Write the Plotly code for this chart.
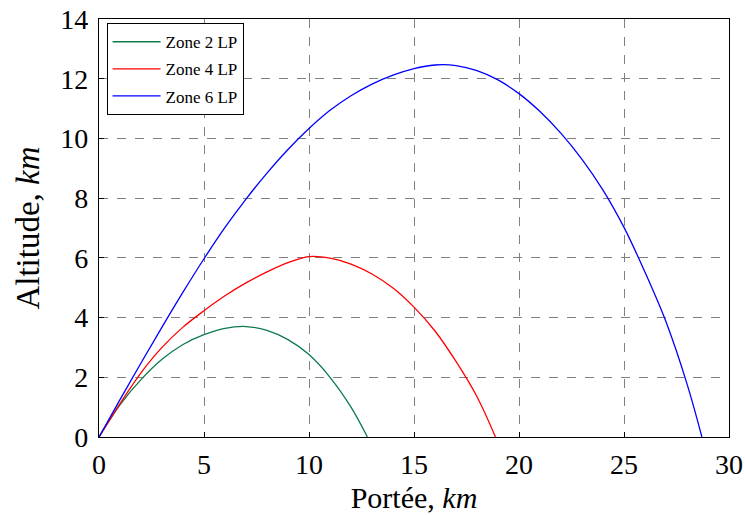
import plotly.graph_objects as go

# Zone 2 LP trajectory (portée km, altitude km)
zone2_x = [0, 1, 2, 3, 4, 5, 6, 7, 8, 9, 10, 11, 12, 12.78]
zone2_y = [0, 1.08, 1.92, 2.6, 3.1, 3.43, 3.64, 3.70, 3.57, 3.26, 2.76, 2.0, 1.0, 0]

# Zone 4 LP trajectory
zone4_x = [0, 1, 2, 3, 4, 5, 6, 7, 8, 9, 10, 11, 12, 13, 14, 15, 16, 17, 18, 18.88]
zone4_y = [0, 1.12, 2.15, 3.0, 3.68, 4.23, 4.73, 5.16, 5.53, 5.84, 6.04, 5.99, 5.79, 5.46, 4.99, 4.35, 3.55, 2.53, 1.35, 0]

# Zone 6 LP trajectory
zone6_x = [0, 1, 2, 3, 4, 5, 6, 7, 8, 9, 10, 11, 12, 13, 14, 15, 16, 17, 18, 19,
           20, 21, 22, 23, 24, 25, 26, 27, 28, 28.71]
zone6_y = [0, 1.25, 2.48, 3.68, 4.85, 5.97, 7.02, 7.97, 8.84, 9.63, 10.33, 10.94, 11.43, 11.82, 12.12, 12.34, 12.46, 12.44, 12.27, 11.96,
           11.5, 10.9, 10.17, 9.3, 8.27, 7.02, 5.52, 3.86, 1.78, 0]

series_names = ["Zone 2 LP", "Zone 4 LP", "Zone 6 LP"]
series_colors = ["#0b7a4c", "#ff0000", "#0000ff"]

x_ticks = [0, 5, 10, 15, 20, 25, 30]
y_ticks = [0, 2, 4, 6, 8, 10, 12, 14]

fig = go.Figure()
for i, (xs, ys) in enumerate([(zone2_x, zone2_y), (zone4_x, zone4_y), (zone6_x, zone6_y)]):
    fig.add_trace(go.Scatter(
        x=xs, y=ys, mode="lines", name=series_names[i],
        legendgroup=f"g{i}",
        line=dict(color=series_colors[i], width=1.3, shape="spline", smoothing=1.0),
    ))

serif = "Liberation Serif"
axis_common = dict(
    showgrid=True, gridcolor="#808080", griddash="dash", gridwidth=1.2,
    showline=True, linecolor="black", linewidth=1.3, mirror=True,
    ticks="inside", ticklen=5, tickcolor="black", zeroline=False,
    automargin=False, ticklabeloverflow="allow",
    tickfont=dict(family=serif, size=28, color="black"),
)

fig.update_layout(
    width=745, height=515,
    margin=dict(l=99, r=16, t=19, b=78),
    paper_bgcolor="white", plot_bgcolor="white",
    font=dict(family=serif, color="black"),
    xaxis=dict(range=[0, 30], tickvals=x_ticks, ticklabelstandoff=2,
               title=dict(text="Portée, <i>km</i>", font=dict(family=serif, size=30), standoff=8),
               **axis_common),
    yaxis=dict(range=[0, 14], tickvals=y_ticks, ticklabelstandoff=4,
               title=dict(text="Altitude, <i>km</i>", font=dict(family=serif, size=33), standoff=10),
               **axis_common),
    legend=dict(x=0.012, y=0.99, xanchor="left", yanchor="top",
                bordercolor="black", borderwidth=1, bgcolor="white",
                font=dict(family=serif, size=17), tracegroupgap=2,
                itemwidth=48, traceorder="grouped"),
    showlegend=True,
)

# remove the default page margin so the 745x515 figure fills the window exactly
fig.write_html("out.html", config={"displayModeBar": False},
               post_script="document.body.style.margin='0';document.body.style.overflow='hidden';")
